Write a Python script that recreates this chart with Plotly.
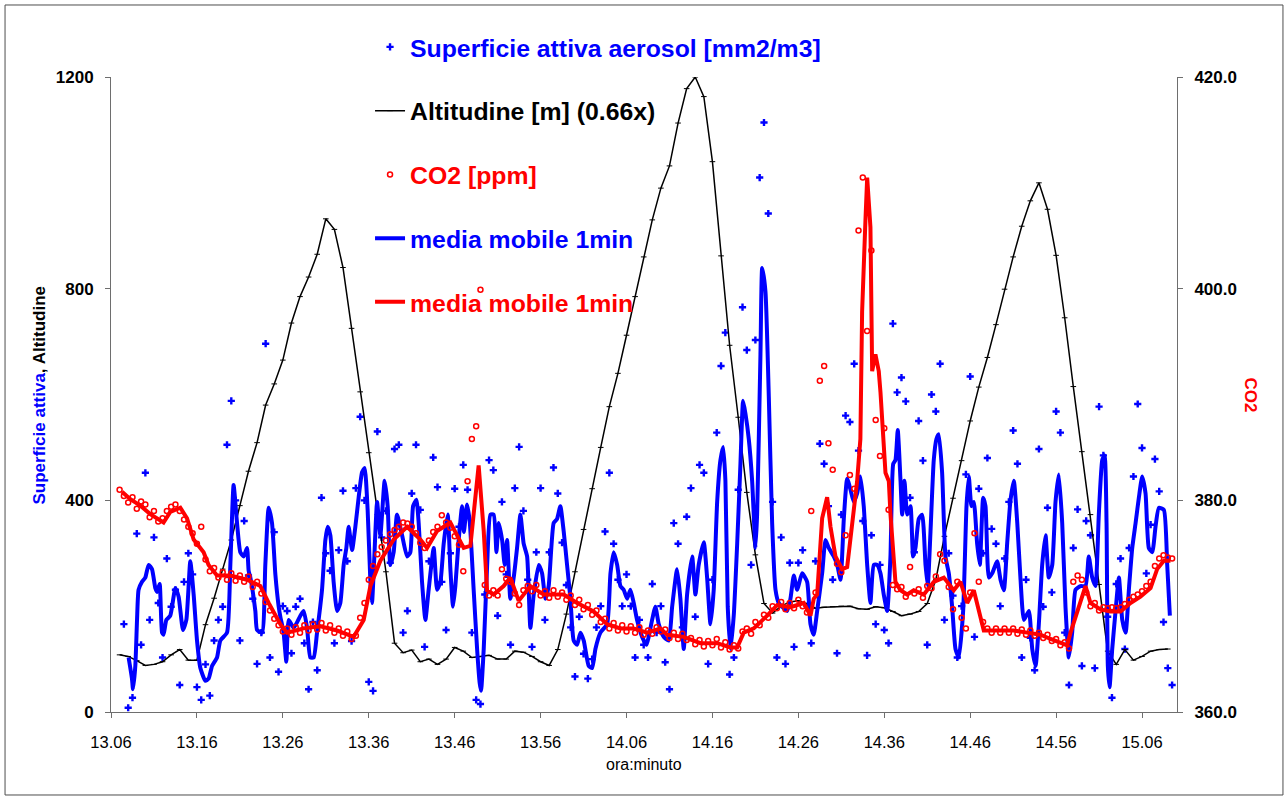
import pandas as pd
import plotly.graph_objects as go

FONT = "Arial, 'Liberation Sans', sans-serif"
BLUE = "#0000FF"
RED = "#FF0000"
AXIS = "#6e6e6e"

START = pd.Timestamp("2000-01-01 13:06:00")

# x-axis labels, one every 10 minutes
tick_labels = ["13.06", "13.16", "13.26", "13.36", "13.46", "13.56", "14.06",
               "14.16", "14.26", "14.36", "14.46", "14.56", "15.06"]

# Altitude [m] scaled by 0.66, one reading per minute from 13:07
altitude = [
    108, 105, 97, 88, 90, 95, 108, 118, 98, 98,
    165, 215, 270, 325, 390, 455, 509, 580, 620, 665,
    735, 785, 822, 865, 932, 912, 840, 725, 605, 490,
    373, 265, 130, 112, 117, 95, 100, 90, 100, 122,
    115, 103, 105, 107, 100, 100, 115, 113, 105, 95,
    88, 118, 185, 265, 345, 422, 500, 577, 640, 712,
    785, 860, 930, 990, 1032, 1113, 1178, 1200, 1163, 1040,
    862, 693, 557, 415, 297, 205, 187, 200, 208, 210,
    204, 196, 198, 199, 200, 200, 195, 194, 199, 197,
    190, 182, 185, 190, 205, 250, 332, 404, 475, 550,
    614, 670, 732, 799, 860, 918, 966, 1000, 950, 863,
    745, 615, 492, 373, 241, 115, 90, 118, 98, 105,
    115, 118, 119,
]

# Active aerosol surface [mm2/m3], raw readings every 30 s from 13:07:30
aerosol_raw = [
    166, 8, 27, 337, 127, 452, 174, 330, 206, 103,
    290, 199, 231, 51, 246, 300, 260, 47, 23, 90,
    31, 135, 174, 199, 505, 588, 400, 135, 361, 258,
    214, 91, 150, 696, 103, 340, 76, 200, 191, 111,
    199, 214, 130, 43, 170, 79, 405, 300, 267, 130,
    306, 418, 285, 134, 423, 558, 400, 57, 40, 530,
    330, 380, 282, 497, 505, 150, 191, 413, 505, 382,
    123, 285, 481, 425, 246, 155, 300, 422, 350, 467,
    420, 150, 23, 15, 222, 476, 457, 182, 397, 260,
    127, 423, 501, 380, 250, 123, 302, 423, 174, 302,
    462, 413, 320, 240, 160, 67, 180, 110, 63, 100,
    160, 200, 341, 452, 318, 250, 200, 260, 200, 103,
    174, 127, 103, 242, 150, 200, 94, 43, 357, 318,
    160, 369, 423, 180, 467, 452, 91, 250, 528, 654,
    717, 71, 103, 420, 765, 684, 278, 703, 1010, 1114,
    942, 397, 103, 330, 91, 282, 123, 282, 306, 200,
    130, 285, 507, 469, 389, 250, 111, 373, 560, 548,
    658, 494, 361, 107, 334, 166, 278, 155, 130, 734,
    604, 632, 587, 405, 302, 550, 475, 127, 600, 568,
    658, 174, 300, 220, 103, 200, 449, 634, 142, 422,
    300, 480, 346, 318, 200, 290, 397, 532, 469, 103,
    250, 140, 79, 497, 199, 386, 226, 568, 528, 150,
    51, 310, 383, 87, 361, 334, 83, 577, 485, 180,
    27, 242, 290, 119, 310, 445, 582, 499, 262, 354,
    478, 417, 170, 83, 51,
]

# 1-minute moving average of the aerosol surface (minutes after 13:06, value)
aerosol_avg_min = [
    2.05, 2.44, 2.56, 2.83, 3.03, 3.21, 3.61, 3.99, 4.38, 4.77,
    5.16, 5.36, 5.66, 5.94, 6.12, 6.44, 6.90, 7.49, 7.87, 8.38,
    8.77, 9.23, 9.62, 10.01, 10.40, 10.98, 11.36, 11.76, 12.34, 12.72,
    13.50, 13.89, 14.27, 14.67, 15.05, 15.44, 15.83, 16.02, 16.22, 16.80,
    17.00, 17.58, 17.96, 18.35, 18.74, 19.13, 19.51, 19.71, 20.09, 20.41,
    20.68, 21.26, 22.04, 22.42, 22.82, 23.20, 23.59, 23.98, 24.56, 24.95,
    25.22, 25.53, 25.91, 26.31, 26.69, 27.08, 27.39, 27.66, 28.06, 28.44,
    28.82, 29.22, 29.52, 29.87, 30.19, 30.38, 30.65, 30.97, 31.35, 31.85,
    32.20, 32.51, 32.90, 33.29, 33.88, 34.46, 34.84, 35.16, 35.54, 35.81,
    36.20, 36.59, 36.97, 37.56, 37.95, 38.34, 38.72, 39.19, 39.50, 39.81,
    40.08, 40.47, 40.86, 41.07, 41.44, 41.75, 42.21, 42.61, 42.91, 43.07,
    43.38, 43.78, 44.16, 44.54, 44.86, 45.12, 45.52, 45.82, 46.10, 46.48,
    46.87, 47.26, 47.65, 48.03, 48.43, 48.81, 49.20, 49.78, 50.17, 50.56,
    50.94, 51.52, 51.92, 52.30, 52.69, 53.08, 53.47, 53.85, 54.25, 54.63,
    55.02, 55.60, 56.00, 56.38, 56.96, 57.74, 58.13, 58.51, 58.91, 59.29,
    59.67, 60.07, 60.45, 60.84, 61.23, 61.82, 62.32, 62.58, 62.98, 63.36,
    63.75, 64.33, 64.91, 65.31, 65.89, 66.27, 66.66, 67.05, 67.64, 68.02,
    68.40, 68.99, 69.38, 69.77, 70.15, 70.55, 70.93, 71.25, 71.51, 71.78,
    72.10, 72.48, 72.88, 73.26, 73.57, 73.84, 74.23, 74.62, 75.01, 75.20,
    75.59, 75.79, 76.17, 76.56, 76.95, 77.34, 77.72, 78.11, 78.70, 79.08,
    79.47, 79.86, 80.44, 81.02, 81.41, 81.79, 82.19, 82.77, 83.16, 83.54,
    84.12, 84.52, 84.91, 85.29, 85.68, 86.07, 86.45, 86.84, 87.22, 87.61,
    88.01, 88.39, 88.78, 89.17, 89.56, 89.94, 90.34, 90.72, 91.04, 91.30,
    91.57, 91.89, 92.08, 92.35, 92.67, 93.05, 93.36, 93.63, 94.02, 94.41,
    94.80, 95.06, 95.38, 95.76, 96.07, 96.34, 96.73, 97.12, 97.51, 97.90,
    98.29, 98.67, 99.18, 99.57, 99.84, 100.15, 100.42, 100.81, 101.12, 101.51,
    101.78, 102.17, 102.56, 103.14, 103.53, 103.92, 104.31, 104.69, 105.08, 105.48,
    105.86, 106.25, 106.83, 107.22, 107.61, 107.99, 108.38, 108.77, 109.15, 109.55,
    109.93, 110.31, 110.71, 111.09, 111.48, 111.87, 112.26, 112.84, 113.42, 113.80,
    114.20, 114.58, 114.97, 115.37, 115.64, 115.87, 116.02, 116.22, 116.53, 116.92,
    117.31, 117.70, 118.09, 118.50, 118.86, 119.25, 119.63, 120.02, 120.41, 120.79,
    121.19, 121.57, 121.96, 122.54, 122.93, 123.24,
]
aerosol_avg = [
    103, 63, 43, 87, 174, 231, 246, 254, 278, 270,
    234, 227, 242, 150, 146, 174, 182, 234, 218, 155,
    174, 285, 222, 135, 83, 59, 63, 87, 103, 135,
    150, 278, 429, 357, 302, 294, 310, 267, 254, 191,
    155, 150, 278, 386, 357, 260, 200, 180, 150, 95,
    174, 159, 182, 191, 159, 103, 103, 150, 231, 325,
    350, 334, 246, 191, 206, 278, 310, 350, 306, 350,
    405, 453, 461, 382, 246, 206, 294, 397, 334, 437,
    389, 278, 302, 373, 334, 294, 302, 389, 401, 357,
    246, 174, 231, 310, 231, 246, 318, 373, 270, 199,
    238, 326, 389, 340, 392, 360, 231, 119, 55, 40,
    119, 278, 373, 373, 302, 357, 325, 278, 325, 214,
    254, 310, 373, 318, 294, 159, 222, 278, 262, 214,
    238, 357, 365, 389, 341, 278, 214, 135, 127, 150,
    135, 87, 83, 119, 150, 166, 262, 302, 278, 238,
    231, 214, 231, 206, 174, 142, 127, 142, 174, 199,
    166, 142, 135, 199, 270, 214, 119, 222, 294, 222,
    278, 321, 254, 166, 231, 397, 476, 501, 437, 199,
    119, 182, 318, 469, 588, 564, 516, 437, 310, 373,
    676, 839, 795, 596, 357, 231, 206, 199, 191, 214,
    258, 231, 262, 246, 166, 146, 191, 262, 325, 310,
    294, 278, 250, 365, 441, 420, 397, 413, 445, 389,
    278, 206, 278, 278, 262, 222, 191, 294, 469, 476,
    533, 437, 373, 437, 373, 389, 294, 310, 365, 373,
    278, 238, 341, 476, 516, 525, 453, 294, 262, 199,
    119, 103, 191, 389, 445, 389, 397, 318, 278, 405,
    389, 254, 262, 285, 250, 230, 320, 400, 437, 357,
    250, 174, 191, 119, 87, 166, 278, 334, 254, 278,
    397, 449, 357, 199, 103, 150, 231, 238, 238, 294,
    254, 238, 373, 476, 485, 357, 87, 47, 119, 191,
    254, 174, 150, 238, 310, 357, 405, 445, 413, 310,
    302, 350, 386, 382, 278, 182,
]

# CO2 [ppm], raw readings every 30 s from 13:07:00
co2_raw = [
    381.0, 380.4, 379.8, 380.3, 379.2, 379.9, 379.6, 378.4, 379.0, 378.0,
    378.3, 379.0, 379.4, 379.6, 379.0, 378.2, 377.5, 376.9, 375.9, 377.5,
    374.4, 373.3, 373.6, 372.7, 373.2, 372.5, 373.1, 372.4, 372.9, 372.3,
    372.8, 371.8, 372.3, 371.2, 370.4, 369.6, 368.8, 368.2, 367.6, 367.9,
    367.3, 368.0, 367.5, 368.2, 367.7, 368.3, 367.8, 368.4, 367.7, 368.2,
    367.5, 367.9, 367.2, 367.6, 366.9, 367.2, 368.9, 370.3, 372.5, 373.8,
    374.9, 375.6, 376.2, 376.8, 377.2, 377.5, 377.9, 377.8, 377.5, 376.9,
    376.0, 375.5, 376.2, 377.0, 377.5, 378.6, 377.9, 377.4, 376.6, 375.8,
    373.3, 381.8, 385.8, 387.0, 399.9, 372.0, 371.0, 371.5, 371.0, 373.5,
    372.6, 372.3, 371.2, 370.1, 371.5, 371.9, 371.4, 372.0, 371.0, 371.4,
    370.8, 371.5, 370.9, 371.3, 370.6, 371.0, 370.1, 370.6, 369.7, 370.1,
    369.2, 369.6, 368.5, 368.8, 367.9, 368.4, 367.7, 368.2, 367.6, 368.1,
    367.5, 368.0, 367.3, 367.7, 367.4, 368.0, 367.6, 367.8, 367.0, 367.5,
    366.9, 367.4, 366.8, 367.0, 366.4, 366.8, 366.2, 366.7, 366.3, 366.9,
    366.1, 366.6, 365.9, 366.3, 366.0, 367.6, 367.9, 367.4, 368.5, 368.2,
    369.2, 368.9, 370.0, 369.8, 370.4, 369.7, 370.3, 369.8, 370.6, 370.0,
    369.4, 379.0, 371.3, 391.3, 392.7, 385.4, 382.9, 374.0, 373.2, 376.7,
    382.4, 381.1, 405.5, 410.5, 396.0, 403.6, 387.6, 384.2, 386.8, 379.1,
    372.0, 371.6, 371.8, 370.9, 373.7, 371.2, 371.6, 370.8, 371.9, 371.7,
    372.8, 374.9, 374.3, 371.8, 369.7, 372.3, 368.9, 367.9, 371.3, 376.9,
    372.3, 368.5, 367.9, 367.5, 367.9, 367.5, 367.9, 367.5, 367.9, 367.4,
    367.8, 367.3, 367.7, 367.2, 367.5, 367.0, 367.3, 366.7, 366.9, 366.3,
    366.6, 366.0, 372.3, 372.9, 372.5, 371.3, 370.0, 370.3, 369.6, 369.9,
    369.8, 369.9, 369.8, 369.9, 370.2, 370.6, 370.9, 371.1, 371.4, 371.9,
    372.3, 373.8, 374.5, 374.8, 374.6, 374.5,
]

# 1-minute moving average of CO2 (minutes after 13:06, value)
co2_avg_min = [
    1.28, 2.25, 3.41, 4.57, 6.12, 6.90, 8.07, 8.85, 9.62, 10.78,
    11.36, 12.34, 13.89, 15.83, 17.38, 18.35, 19.71, 20.49, 22.42, 24.37,
    26.31, 28.24, 29.41, 30.19, 31.35, 32.90, 34.46, 36.01, 36.79, 37.95,
    39.50, 41.05, 41.83, 42.41, 42.79, 43.38, 43.77, 44.54, 45.70, 46.48,
    47.45, 48.81, 50.36, 52.69, 54.25, 56.18, 57.74, 59.29, 60.84, 62.40,
    63.94, 64.73, 66.66, 68.60, 70.55, 72.10, 72.88, 73.64, 74.81, 76.37,
    77.53, 79.08, 80.63, 81.41, 81.79, 82.19, 82.77, 83.35, 83.74, 84.32,
    85.10, 85.68, 86.26, 86.84, 87.22, 87.42, 87.81, 88.01, 88.39, 88.59,
    88.97, 89.36, 89.56, 90.14, 90.53, 90.72, 91.30, 91.89, 92.67, 93.43,
    94.60, 95.76, 96.93, 98.09, 98.87, 99.65, 100.42, 101.20, 101.58, 103.14,
    105.08, 106.64, 108.19, 109.35, 111.29, 111.68, 112.84, 113.42, 114.00, 115.17,
    116.33, 117.50, 118.66, 119.82, 120.99, 121.76, 122.54, 123.31,
]
co2_avg = [
    380.8, 380.1, 379.5, 378.7, 377.9, 378.9, 379.3, 378.3, 376.3, 375.1,
    373.9, 372.9, 372.9, 372.5, 371.9, 370.3, 368.3, 367.5, 367.9, 368.1,
    367.7, 367.1, 368.7, 371.9, 374.3, 376.3, 377.5, 376.3, 375.5, 377.1,
    377.9, 375.5, 375.7, 379.9, 383.3, 377.1, 371.5, 371.1, 371.9, 372.7,
    370.5, 371.9, 371.1, 371.1, 370.3, 369.5, 368.3, 367.9, 367.9, 367.5,
    367.9, 367.3, 367.1, 366.5, 366.5, 366.1, 366.1, 367.5, 367.9, 369.1,
    370.1, 369.9, 370.3, 369.1, 370.7, 371.1, 378.3, 380.3, 377.5, 374.7,
    373.5, 373.7, 377.9, 381.8, 385.8, 397.8, 406.5, 410.5, 405.8, 392.2,
    393.8, 392.2, 390.2, 382.6, 381.8, 378.7, 372.3, 371.5, 371.1, 371.5,
    371.1, 372.3, 372.7, 371.5, 372.3, 370.3, 371.5, 368.7, 367.7, 367.7,
    367.7, 367.5, 367.3, 366.9, 366.3, 367.5, 370.3, 371.9, 370.3, 369.7,
    369.5, 369.5, 370.3, 370.9, 371.7, 373.5, 374.3, 374.3,
]


def at_minutes(minutes):
    return [START + pd.Timedelta(minutes=float(m)) for m in minutes]


altitude_time = at_minutes(range(1, len(altitude) + 1))
aerosol_time = at_minutes([1.5 + 0.5 * i for i in range(len(aerosol_raw))])
co2_time = at_minutes([1.0 + 0.5 * i for i in range(len(co2_raw))])
tick_vals = at_minutes([10 * i for i in range(len(tick_labels))])


def coloured(text, colour):
    return f"<span style='color:{colour}'>{text}</span>"


fig = go.Figure()

fig.add_trace(go.Scatter(
    x=aerosol_time, y=aerosol_raw, mode="markers",
    name=coloured("Superficie attiva aerosol [mm2/m3]", BLUE),
    marker=dict(symbol="cross", size=6, color=BLUE),
    legendgroup="g1",
))
fig.add_trace(go.Scatter(
    x=altitude_time, y=altitude, mode="lines+markers",
    name=coloured("Altitudine [m] (0.66x)", "black"),
    line=dict(color="black", width=1.5),
    marker=dict(symbol="line-ew-open", size=4, color="black",
                line=dict(color="black", width=1)),
    legendgroup="g2",
))
fig.add_trace(go.Scatter(
    x=co2_time, y=co2_raw, mode="markers", yaxis="y2",
    name=coloured("CO2 [ppm]", RED),
    marker=dict(symbol="circle-open", size=5, color=RED,
                line=dict(color=RED, width=1.5)),
    legendgroup="g3",
))
fig.add_trace(go.Scatter(
    x=at_minutes(aerosol_avg_min), y=aerosol_avg, mode="lines",
    name=coloured("media mobile 1min", BLUE),
    line=dict(color=BLUE, width=4, shape="spline", smoothing=0.5),
    legendgroup="g4",
))
fig.add_trace(go.Scatter(
    x=at_minutes(co2_avg_min), y=co2_avg, mode="lines", yaxis="y2",
    name=coloured("media mobile 1min", RED),
    line=dict(color=RED, width=4),
    legendgroup="g5",
))

axis_common = dict(
    showline=True, linecolor=AXIS, linewidth=1,
    ticks="outside", ticklen=5, tickcolor=AXIS, tickwidth=1,
    showgrid=False, zeroline=False,
)

fig.update_layout(
    width=1288, height=800,
    margin=dict(l=111, r=111, t=77, b=88),
    paper_bgcolor="white", plot_bgcolor="white",
    font=dict(family=FONT, color="black"),
    legend=dict(
        x=0.243, y=1.083, xanchor="left", yanchor="top",
        font=dict(size=24.8, weight="bold"),
        traceorder="grouped", tracegroupgap=28.5,
        bgcolor="rgba(0,0,0,0)", itemwidth=30,
    ),
    xaxis=dict(
        type="date",
        range=[START, START + pd.Timedelta(minutes=124.07)],
        tickvals=tick_vals, ticktext=tick_labels,
        tickfont=dict(size=16.5),
        ticklabelstandoff=10,
        **axis_common,
    ),
    yaxis=dict(
        range=[0, 1200], tickvals=[0, 400, 800, 1200],
        tickfont=dict(size=17, weight="bold"),
        ticklabelstandoff=8,
        **axis_common,
    ),
    yaxis2=dict(
        range=[360, 420], tickvals=[360, 380, 400, 420], tickformat=".1f",
        overlaying="y", side="right",
        tickfont=dict(size=17, weight="bold"),
        ticklabelstandoff=8,
        **axis_common,
    ),
    annotations=[
        dict(text=coloured("Superficie attiva", BLUE) + ", Altitudine",
             xref="paper", yref="paper", x=-0.078, y=0.499,
             textangle=-90, showarrow=False,
             font=dict(size=17, weight="bold", color="black")),
        dict(text="CO2", xref="paper", yref="paper", x=1.0798, y=0.499,
             textangle=90, showarrow=False,
             font=dict(size=17, weight="bold", color=RED)),
        dict(text="ora:minuto", xref="paper", yref="paper", x=0.5, y=-0.099,
             showarrow=False, font=dict(size=16, color="black")),
    ],
    shapes=[
        dict(type="rect", xref="paper", yref="paper",
             x0=-0.0994, x1=1.0994, y0=-0.1307, y1=1.1134,
             line=dict(color="#4d4d4d", width=1), fillcolor="rgba(0,0,0,0)",
             layer="below"),
    ],
)

fig.write_html("out.html")
